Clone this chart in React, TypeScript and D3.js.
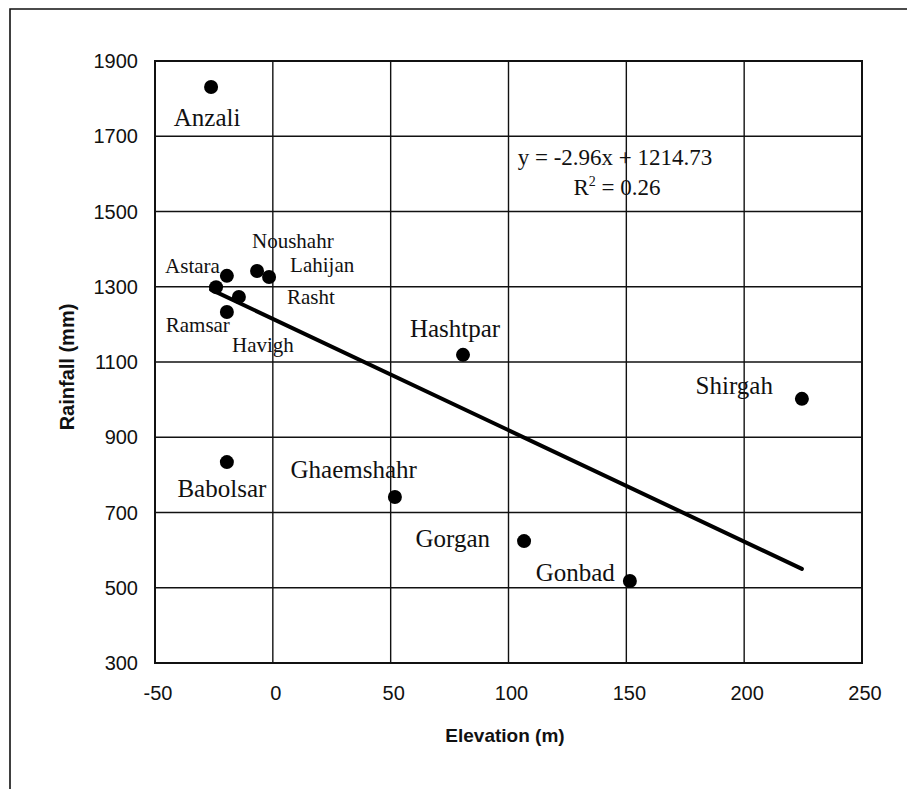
import React from "react";
import * as d3 from "d3";

// Station names, elevation (m) and annual rainfall (mm)
const stations = [
  "Anzali", "Astara", "Havigh", "Noushahr", "Lahijan", "Rasht", "Ramsar",
  "Hashtpar", "Babolsar", "Ghaemshahr", "Shirgah", "Gorgan", "Gonbad",
];
const elevation = [-26.2, -19.5, -24.1, -6.7, -1.6, -14.4, -19.5, 80.7, -19.5, 51.8, 224.5, 106.6, 151.5];
const rainfall = [1831, 1329, 1299, 1342, 1326, 1273, 1233, 1119, 834, 741, 1002, 624, 518];

// Linear trend line
const slope = -2.96;
const intercept = 1214.73;
const equationText = "y = -2.96x + 1214.73";
const r2Text = "0.26";

const xTicks = [-50, 0, 50, 100, 150, 200, 250];
const yTicks = [300, 500, 700, 900, 1100, 1300, 1500, 1700, 1900];

// Label placement around each dot: [dx, dy, anchor, size]
type Place = [number, number, "start" | "middle" | "end", "big" | "small"];
const labelPlace: Record<string, Place> = {
  Anzali: [-4, 39, "middle", "big"],
  Astara: [-7, -3, "end", "small"],
  Havigh: [16, 65, "start", "small"],
  Noushahr: [-5, -23, "start", "small"],
  Lahijan: [21, -5, "start", "small"],
  Rasht: [48, 7, "start", "small"],
  Ramsar: [3, 20, "end", "small"],
  Hashtpar: [-8, -18, "middle", "big"],
  Babolsar: [-5, 35, "middle", "big"],
  Ghaemshahr: [22, -19, "end", "big"],
  Shirgah: [-29, -5, "end", "big"],
  Gorgan: [-34, 6, "end", "big"],
  Gonbad: [-15, 0, "end", "big"],
};

const W = 907;
const H = 789;
const left = 155;
const right = 862;
const top = 61;
const bottom = 663;

const serif = "'Liberation Serif', 'Times New Roman', serif";
const sans = "'Liberation Sans', Arial, Helvetica, sans-serif";

export default function App() {
  const x = d3.scaleLinear().domain([-50, 250]).range([left, right]);
  const y = d3.scaleLinear().domain([300, 1900]).range([bottom, top]);

  const xMin = d3.min(elevation) as number;
  const xMax = d3.max(elevation) as number;
  const trend = d3
    .line<number>()
    .x((d) => x(d))
    .y((d) => y(slope * d + intercept))([xMin, xMax]);

  return (
    <svg
      width={W}
      height={H}
      style={{ position: "absolute", left: 0, top: 0, background: "#fff" }}
    >
      <rect x={0} y={0} width={W} height={H} fill="#fff" />
      {/* outer frame */}
      <path d={`M10,${H + 5} L10,9 L${W + 5},9`} fill="none" stroke="#111" strokeWidth={1.6} />

      {/* grid */}
      {xTicks.map((t) => (
        <line key={"gx" + t} x1={x(t)} x2={x(t)} y1={top} y2={bottom} stroke="#111" strokeWidth={1.4} />
      ))}
      {yTicks.map((t) => (
        <line key={"gy" + t} x1={left} x2={right} y1={y(t)} y2={y(t)} stroke="#111" strokeWidth={1.4} />
      ))}
      <rect x={left} y={top} width={right - left} height={bottom - top} fill="none" stroke="#111" strokeWidth={2} />

      {/* tick labels */}
      {yTicks.map((t) => (
        <text
          key={"ty" + t}
          x={138}
          y={y(t)}
          dy="0.35em"
          textAnchor="end"
          fontFamily={sans}
          fontSize={20}
          fill="#111"
        >
          {t}
        </text>
      ))}
      {xTicks.map((t) => (
        <text
          key={"tx" + t}
          x={x(t) + 3}
          y={700}
          textAnchor="middle"
          fontFamily={sans}
          fontSize={20}
          fill="#111"
        >
          {t}
        </text>
      ))}

      {/* axis titles */}
      <text x={505} y={742} textAnchor="middle" fontFamily={sans} fontWeight="bold" fontSize={19} fill="#111">
        Elevation (m)
      </text>
      <text
        transform="translate(74,367) rotate(-90)"
        textAnchor="middle"
        fontFamily={sans}
        fontWeight="bold"
        fontSize={20}
        fill="#111"
      >
        Rainfall (mm)
      </text>

      {/* trend line */}
      <path d={trend ?? ""} fill="none" stroke="#000" strokeWidth={4} strokeLinecap="round" />

      {/* points and names */}
      {stations.map((name, i) => {
        const cx = x(elevation[i]);
        const cy = y(rainfall[i]);
        const [dx, dy, anchor, size] = labelPlace[name];
        return (
          <g key={name}>
            <circle cx={cx} cy={cy} r={7} fill="#000" />
            <text
              x={cx + dx}
              y={cy + dy}
              textAnchor={anchor}
              fontFamily={serif}
              fontSize={size === "big" ? 25 : 21}
              fill="#111"
            >
              {name}
            </text>
          </g>
        );
      })}

      {/* equation */}
      <text x={615} y={165} textAnchor="middle" fontFamily={serif} fontSize={23} fill="#111">
        {equationText}
      </text>
      <text x={617} y={195} textAnchor="middle" fontFamily={serif} fontSize={23} fill="#111">
        R<tspan dy={-9} fontSize={14}>2</tspan>
        <tspan dy={9}>{" = " + r2Text}</tspan>
      </text>
    </svg>
  );
}
